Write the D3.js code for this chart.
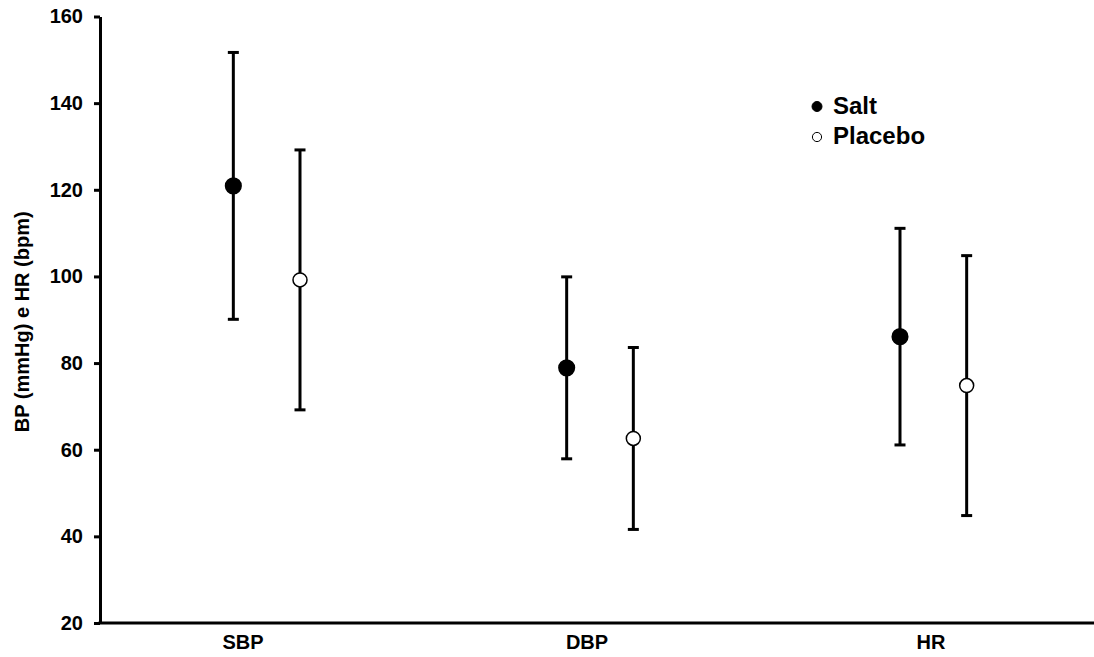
<!DOCTYPE html>
<html lang="en">
  <head>
    <meta charset="UTF-8" />
    <title>BP and HR: Salt vs Placebo</title>
    <style>
      body { margin: 0; background: #fff; }
      svg text { font-family: "Liberation Sans", Arial, sans-serif; font-weight: bold; fill: #000; }
    </style>
  </head>
  <body>
    <div id="chart"></div>

    <script src="https://d3js.org/d3.v7.min.js"></script>
    <script>
      // values (mean and error half-width)
      const categories = ["SBP", "DBP", "HR"];
      const saltMean = [120.9, 78.9, 86.1];
      const saltErr = [30.8, 21.0, 25.0];
      const placeboMean = [99.2, 62.6, 74.8];
      const placeboErr = [30.0, 21.0, 30.0];
      const yTicks = [20, 40, 60, 80, 100, 120, 140, 160];

      const w = 1094;
      const h = 657;

      const svg = d3
        .select("#chart")
        .append("svg")
        .attr("width", w)
        .attr("height", h);

      // categories sit at i + 0.5 on a 0..3 scale
      const xScale = d3.scaleLinear().domain([0, 3]).range([100, 1100]);
      const yScale = d3.scaleLinear().domain([20, 160]).range([623, 16.5]);
      // the category labels are spaced a bit wider than the markers
      const labelScale = d3.scalePoint().domain(categories).range([243, 931]);

      const series = [
        { name: "Salt", mean: saltMean, err: saltErr, offset: -0.1, fill: "#000" },
        { name: "Placebo", mean: placeboMean, err: placeboErr, offset: 0.1, fill: "#fff" },
      ];

      // y axis
      const yAxis = svg
        .append("g")
        .attr("transform", "translate(100,0)")
        .call(d3.axisLeft(yScale).tickValues(yTicks).tickSize(6).tickPadding(11).tickSizeOuter(0));
      yAxis.select(".domain").attr("stroke", "#000").attr("stroke-width", 3);
      yAxis.selectAll(".tick line").attr("stroke", "#000").attr("stroke-width", 3);
      yAxis.selectAll(".tick text").style("font-size", "20px").attr("font-family", null);

      // x axis line (no ticks)
      svg
        .append("line")
        .attr("x1", xScale(0) - 1.5)
        .attr("x2", w)
        .attr("y1", yScale(20))
        .attr("y2", yScale(20))
        .attr("stroke", "#000")
        .attr("stroke-width", 3);

      // category labels
      svg
        .selectAll(".cat")
        .data(categories)
        .enter()
        .append("text")
        .attr("class", "cat")
        .attr("x", (d) => labelScale(d))
        .attr("y", 649)
        .attr("text-anchor", "middle")
        .style("font-size", "20px")
        .text((d) => d);

      // y label
      svg
        .append("text")
        .attr("transform", `translate(29, ${(yScale(20) + yScale(160)) / 2 + 2}) rotate(-90)`)
        .attr("text-anchor", "middle")
        .style("font-size", "20px")
        .text("BP (mmHg) e HR (bpm)");

      // error bars and markers
      series.forEach((s) => {
        const g = svg.append("g");
        const pts = categories.map((c, i) => ({
          x: xScale(i + 0.5 + s.offset),
          m: s.mean[i],
          e: s.err[i],
        }));

        g.selectAll(".stem")
          .data(pts)
          .enter()
          .append("line")
          .attr("x1", (d) => d.x)
          .attr("x2", (d) => d.x)
          .attr("y1", (d) => yScale(d.m + d.e))
          .attr("y2", (d) => yScale(d.m - d.e))
          .attr("stroke", "#000")
          .attr("stroke-width", 3);

        ["top", "bottom"].forEach((side) => {
          g.selectAll(".cap-" + side)
            .data(pts)
            .enter()
            .append("line")
            .attr("x1", (d) => d.x - 5.5)
            .attr("x2", (d) => d.x + 5.5)
            .attr("y1", (d) => yScale(side == "top" ? d.m + d.e : d.m - d.e))
            .attr("y2", (d) => yScale(side == "top" ? d.m + d.e : d.m - d.e))
            .attr("stroke", "#000")
            .attr("stroke-width", 3);
        });

        g.selectAll("circle")
          .data(pts)
          .enter()
          .append("circle")
          .attr("cx", (d) => d.x)
          .attr("cy", (d) => yScale(d.m))
          .attr("r", s.fill == "#000" ? 7.8 : 7)
          .attr("fill", s.fill)
          .attr("stroke", "#000")
          .attr("stroke-width", 1.5);
      });

      // legend
      const legend = svg.append("g");
      series.forEach((s, i) => {
        legend
          .append("circle")
          .attr("cx", 817)
          .attr("cy", 106.5 + i * 30.5)
          .attr("r", s.fill == "#000" ? 5 : 4.6)
          .attr("fill", s.fill)
          .attr("stroke", "#000")
          .attr("stroke-width", 1);
        legend
          .append("text")
          .attr("x", 833)
          .attr("y", 114 + i * 30)
          .style("font-size", "24px")
          .text(s.name);
      });
    </script>
  </body>
</html>
